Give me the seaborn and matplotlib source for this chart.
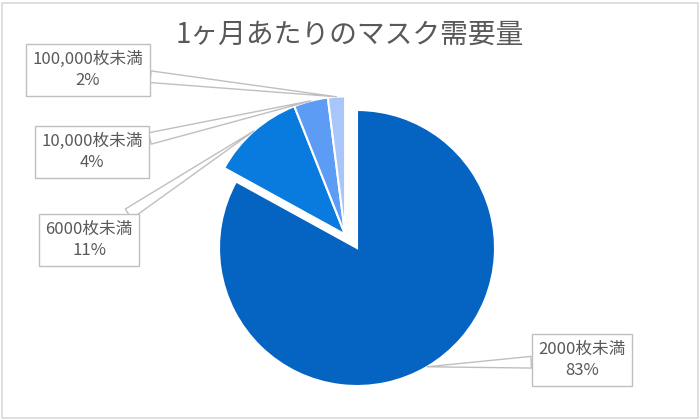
import numpy as np
import matplotlib
matplotlib.use("Agg")
import matplotlib.pyplot as plt
from matplotlib.patches import Rectangle
import seaborn as sns

# ---- data ----
title = "1ヶ月あたりのマスク需要量"
categories = ["2000枚未満", "6000枚未満", "10,000枚未満", "100,000枚未満"]
shares = [83, 11, 4, 2]
colors = ["#0563C1", "#0A7BDE", "#5C9CF5", "#A9C6FA"]

sns.set_theme(style="white")
plt.rcParams['font.family'] = ['Noto Sans CJK JP', 'DejaVu Sans']

W, H = 700, 420
fig = plt.figure(figsize=(7, 4.2), dpi=100)
ax = fig.add_axes([0, 0, 1, 1])

def img(x, y):
    return (x, H - y)

center = img(357, 248)
radius = 138
palette = sns.color_palette(colors)

wedges, _ = ax.pie(shares, colors=palette, startangle=90, counterclock=False,
                   center=center, radius=radius, frame=True,
                   wedgeprops=dict(edgecolor="white", linewidth=1.5))
ax.set_xlim(0, W)
ax.set_ylim(0, H)
ax.set_aspect('equal')
ax.axis('off')

# the minor slices are pulled out together, toward the 6000 slice direction
w6 = wedges[1]
mid6 = np.deg2rad((w6.theta1 + w6.theta2) / 2)
shift = 18
dx, dy = shift * np.cos(mid6), shift * np.sin(mid6)
for w in wedges[1:]:
    cx, cy = w.center
    w.set_center((cx + dx, cy + dy))

# callout labels (box centres in image pixel coordinates)
label_pos = [img(582, 360), img(89, 240), img(92, 152), img(88, 70)]
text_color = "#595959"
for w, cat, sh, pos in zip(wedges, categories, shares, label_pos):
    cx, cy = w.center
    mid = np.deg2rad((w.theta1 + w.theta2) / 2)
    tip = (cx + w.r * np.cos(mid), cy + w.r * np.sin(mid))
    ax.annotate(f"{cat}\n{sh}%", xy=tip, xytext=pos, ha="center", va="center",
                fontsize=12, color=text_color, linespacing=1.3,
                bbox=dict(boxstyle="square,pad=0.4", fc="white", ec="#BFBFBF", lw=1),
                arrowprops=dict(arrowstyle="wedge,tail_width=0.7", fc="white",
                                ec="#BFBFBF", lw=1, shrinkA=0, shrinkB=0),
                zorder=5)

fig.text(0.5, 1 - 35 / H, title, ha="center", va="center", fontsize=20, color=text_color)

ax.add_patch(Rectangle((1.5, 2.5), W - 3.5, H - 5, fill=False, ec="#D9D9D9", lw=1.2,
                       zorder=10, clip_on=False))

fig.savefig("out.png", dpi=100, facecolor="white")
